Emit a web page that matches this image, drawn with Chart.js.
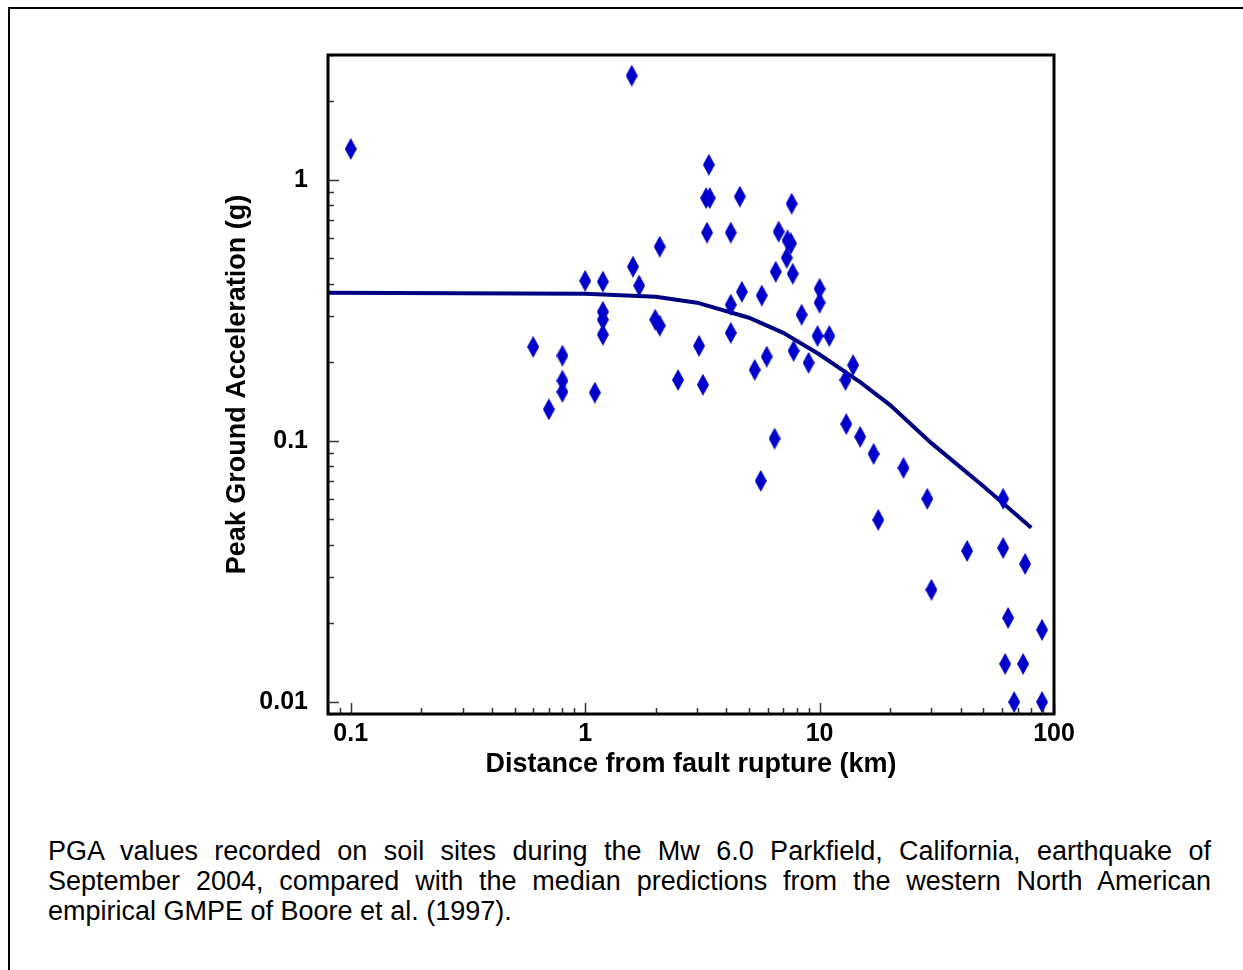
<!DOCTYPE html>
<html>
<head>
<meta charset="utf-8">
<script src="https://cdn.jsdelivr.net/npm/chart.js@4/dist/chart.umd.min.js"></script>
<style>
  body { margin: 0; background: #fff; width: 1243px; height: 970px; overflow: hidden; position: relative; }
  #frame { position: absolute; left: 8px; top: 7px; width: 1300px; height: 1000px; border: 2px solid #000; }
  #chart { position: absolute; left: 0; top: 0; }
  #caption {
    position: absolute; left: 48px; top: 836px; width: 1163px;
    font: 27px "Liberation Sans", Arial, sans-serif; line-height: 30px;
    text-align: justify; color: #000;
  }
</style>
</head>
<body>
<div id="frame"></div>
<canvas id="chart" width="1243" height="800"></canvas>
<div id="caption">PGA values recorded on soil sites during the Mw 6.0 Parkfield, California, earthquake of September 2004, compared with the median predictions from the western North American empirical GMPE of Boore et al. (1997).</div>
<script>
// recorded stations: distance (km) and PGA (g)
const distance = [
  0.1, 1.58, 0.60, 0.80, 0.80, 0.80, 0.70, 1.10, 1.00, 1.19,
  1.19, 1.19, 1.19, 1.60, 1.70, 2.08, 1.99, 2.08, 2.49, 3.06,
  3.18, 3.37, 3.28, 3.40, 3.31, 4.18, 4.57, 4.18, 4.18, 4.66,
  5.29, 5.67, 5.95, 5.61, 6.43, 6.69, 6.50, 7.30, 7.55, 7.24,
  7.60, 7.68, 10.0, 10.0, 8.38, 9.8, 11.0, 7.75, 8.98, 13.9,
  12.9, 13.0, 14.9, 17.0, 22.8, 17.8, 28.8, 60.7, 42.6, 60.7,
  75.3, 30.0, 63.7, 88.9, 61.9, 73.8, 67.6, 88.9
];
const pga = [
  1.31, 2.50, 0.229, 0.212, 0.170, 0.154, 0.132, 0.153, 0.41, 0.407,
  0.312, 0.291, 0.255, 0.464, 0.393, 0.554, 0.291, 0.276, 0.171, 0.231,
  0.164, 1.14, 0.85, 0.85, 0.627, 0.627, 0.861, 0.332, 0.259, 0.372,
  0.187, 0.36, 0.210, 0.0703, 0.102, 0.632, 0.444, 0.585, 0.57, 0.502,
  0.809, 0.436, 0.382, 0.338, 0.304, 0.252, 0.252, 0.221, 0.199, 0.195,
  0.171, 0.116, 0.1036, 0.0891, 0.0788, 0.0498, 0.060, 0.060, 0.0379, 0.0389,
  0.0338, 0.0269, 0.0210, 0.0189, 0.0140, 0.0140, 0.0100, 0.0100
];

// Boore et al. (1997) median curve
const medianDistance = [0.08, 1, 2, 3, 5, 7, 10, 15, 20, 30, 50, 80];
const medianPga = [0.369, 0.366, 0.356, 0.338, 0.296, 0.259, 0.214, 0.167, 0.137, 0.098, 0.067, 0.0465];

const xTicks = [0.1, 1, 10, 100];
const yTicks = [0.01, 0.1, 1];

// tall blue diamond used as the marker
function diamond(w, h, color) {
  const c = document.createElement('canvas');
  c.width = w; c.height = h;
  const g = c.getContext('2d');
  g.fillStyle = color;
  g.beginPath();
  g.moveTo(w / 2, 0);
  g.lineTo(w, h / 2);
  g.lineTo(w / 2, h);
  g.lineTo(0, h / 2);
  g.closePath();
  g.fill();
  return c;
}

// 1..9 steps of each decade between min and max
function logSteps(min, max) {
  const out = [];
  for (let d = Math.floor(Math.log10(min)); d <= Math.ceil(Math.log10(max)); d++) {
    for (let k = 1; k <= 9; k++) {
      const v = k * Math.pow(10, d);
      if (v >= min * 0.999 && v <= max * 1.001) out.push([v, k === 1]);
    }
  }
  return out;
}

// inward tick marks and the box round the plot
const frameAndTicks = {
  id: 'frameAndTicks',
  afterDatasetsDraw(chart) {
    const { ctx, chartArea: a, scales: { x, y } } = chart;
    ctx.save();
    ctx.strokeStyle = '#333';
    ctx.lineWidth = 1.5;
    ctx.beginPath();
    logSteps(x.min, x.max).forEach(([v, major]) => {
      const px = Math.round(x.getPixelForValue(v)) + 0.5;
      ctx.moveTo(px, a.bottom);
      ctx.lineTo(px, a.bottom - (major ? 11 : 6));
    });
    logSteps(y.min, y.max).forEach(([v, major]) => {
      const py = Math.round(y.getPixelForValue(v)) + 0.5;
      ctx.moveTo(a.left, py);
      ctx.lineTo(a.left + (major ? 11 : 6), py);
    });
    ctx.stroke();
    ctx.strokeStyle = '#000';
    ctx.lineWidth = 3;
    ctx.strokeRect(a.left, a.top, a.right - a.left, a.bottom - a.top);
    ctx.restore();
  }
};

const tickFont = { family: '"Liberation Sans", Arial, sans-serif', size: 25, weight: 'bold' };
const titleFont = { family: '"Liberation Sans", Arial, sans-serif', size: 27, weight: 'bold' };

new Chart(document.getElementById('chart').getContext('2d'), {
  type: 'scatter',
  data: {
    datasets: [
      {
        label: 'Recorded',
        data: distance.map((d, i) => ({ x: d, y: pga[i] })),
        pointStyle: diamond(12, 22, '#0000CC'),
        pointRadius: 6,
        order: 0
      },
      {
        label: 'Boore et al. (1997)',
        data: medianDistance.map((d, i) => ({ x: d, y: medianPga[i] })),
        showLine: true,
        borderColor: '#000080',
        borderWidth: 4,
        pointRadius: 0,
        tension: 0,
        order: 1
      }
    ]
  },
  options: {
    responsive: false,
    animation: false,
    events: [],
    layout: { padding: { left: 221, right: 189, top: 55, bottom: 19 } },
    plugins: { legend: { display: false }, tooltip: { enabled: false } },
    scales: {
      x: {
        type: 'logarithmic',
        min: 0.08,
        max: 100,
        grid: { display: false, drawTicks: false },
        border: { display: false },
        afterBuildTicks: (scale) => { scale.ticks = xTicks.map((v) => ({ value: v })); },
        afterFit: (scale) => { scale.height = 67; },
        ticks: {
          autoSkip: false,
          maxRotation: 0,
          padding: 5,
          color: '#000',
          font: tickFont,
          callback: (v) => String(v)
        },
        title: {
          display: true,
          text: 'Distance from fault rupture (km)',
          color: '#000',
          font: titleFont,
          padding: 0
        }
      },
      y: {
        type: 'logarithmic',
        min: 0.009,
        max: 3,
        grid: { display: false, drawTicks: false },
        border: { display: false },
        afterBuildTicks: (scale) => { scale.ticks = yTicks.map((v) => ({ value: v })); },
        afterFit: (scale) => { scale.width = 107; },
        ticks: {
          autoSkip: false,
          padding: 20,
          color: '#000',
          font: tickFont,
          callback: (v) => String(v)
        },
        title: {
          display: true,
          text: 'Peak Ground Acceleration (g)',
          color: '#000',
          font: titleFont,
          padding: 0
        }
      }
    }
  },
  plugins: [frameAndTicks]
});
</script>
</body>
</html>
